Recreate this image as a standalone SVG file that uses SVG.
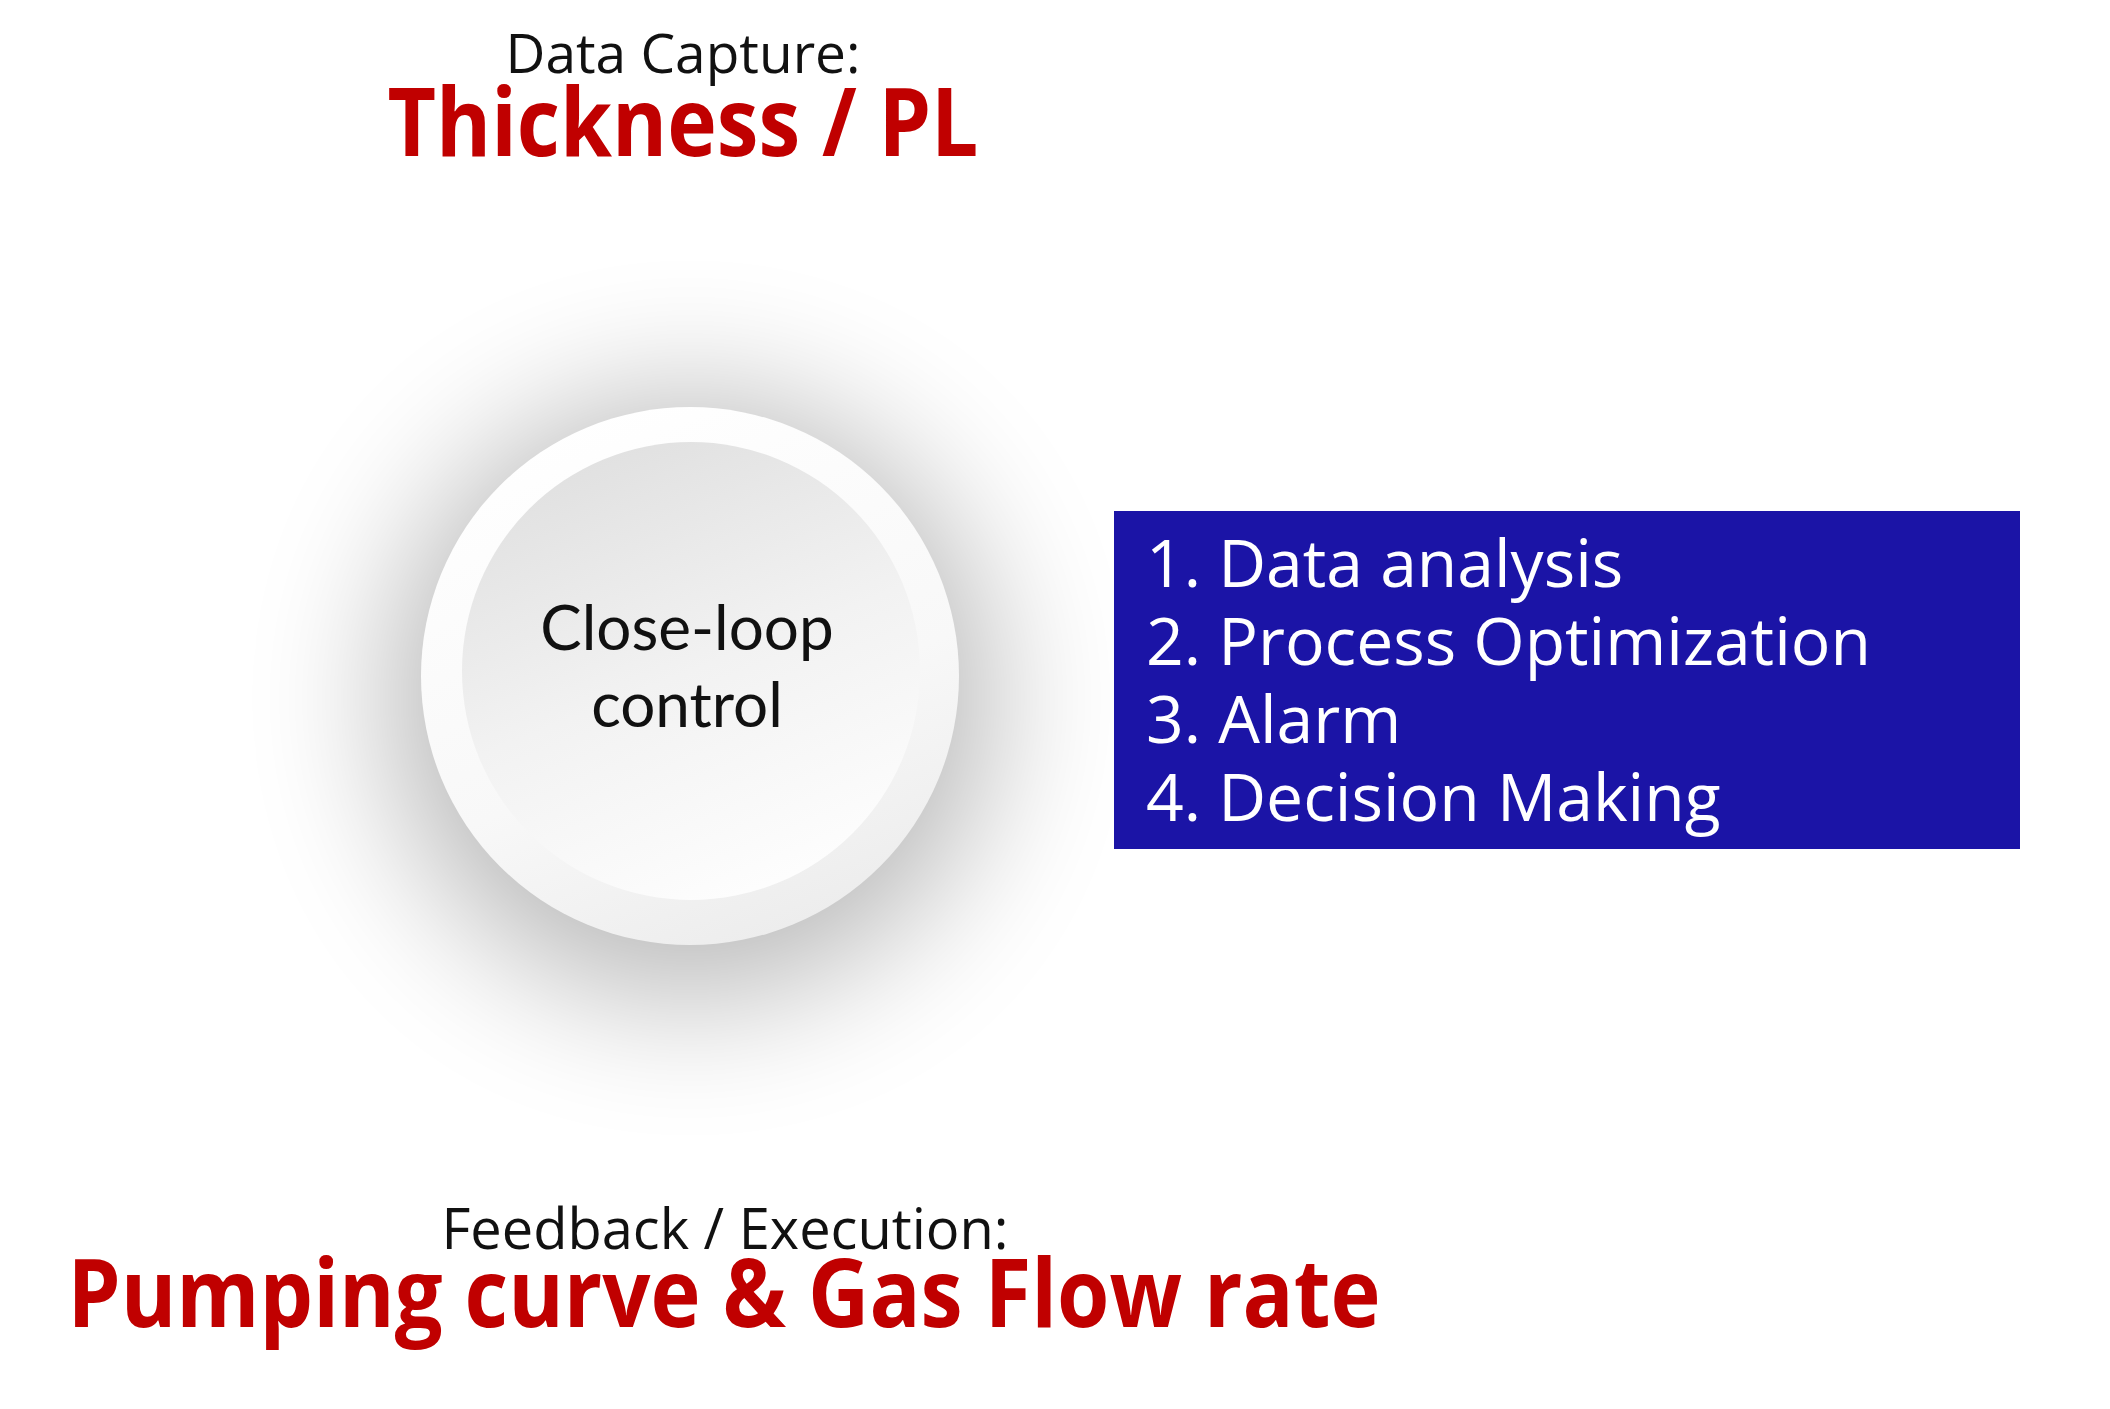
<svg xmlns="http://www.w3.org/2000/svg" width="2110" height="1409" viewBox="0 0 2110 1409">
  <defs>
    <filter id="softShadow" x="-60%" y="-60%" width="220%" height="220%">
      <feGaussianBlur stdDeviation="72"/>
    </filter>
    <linearGradient id="outerGrad" x1="0.3" y1="0" x2="0.7" y2="1">
      <stop offset="0" stop-color="#ffffff"/>
      <stop offset="0.6" stop-color="#f8f8f8"/>
      <stop offset="1" stop-color="#ececec"/>
    </linearGradient>
    <linearGradient id="innerGrad" x1="0.3" y1="0" x2="0.7" y2="1">
      <stop offset="0" stop-color="#e0e0e0"/>
      <stop offset="0.5" stop-color="#f2f2f2"/>
      <stop offset="1" stop-color="#fefefe"/>
    </linearGradient>
    <style>
      .label { font-family: "Open Sans", "Noto Sans", "Liberation Sans", sans-serif; fill: #111111; text-anchor: middle; }
      .headline { font-family: "Open Sans", "Noto Sans", "Liberation Sans", sans-serif; font-weight: 700; fill: #C00000; text-anchor: middle; }
      .center { font-family: "Lato", "Open Sans", sans-serif; fill: #111111; text-anchor: middle; font-size: 62px; }
      .item { font-family: "Open Sans", "Noto Sans", "Liberation Sans", sans-serif; fill: #ffffff; font-size: 66px; }
    </style>
  </defs>
  <rect x="0" y="0" width="2110" height="1409" fill="#ffffff"/>

  <g id="data-capture">
    <text class="label" x="683" y="73" font-size="55">Data Capture:</text>
    <text class="headline" x="683" y="156" font-size="95" textLength="591" lengthAdjust="spacingAndGlyphs">Thickness / PL</text>
  </g>

  <g id="close-loop-control">
    <circle cx="690" cy="698" r="300" fill="#000000" opacity="0.28" filter="url(#softShadow)"/>
    <circle cx="690" cy="676" r="269" fill="url(#outerGrad)"/>
    <circle cx="691" cy="671" r="229" fill="url(#innerGrad)"/>
    <text class="center" x="687" y="650">Close-loop</text>
    <text class="center" x="687" y="727">control</text>
  </g>

  <g id="actions">
    <rect x="1114" y="511" width="906" height="338" fill="#1B14A6"/>
    <text class="item" x="1146" y="587">1. Data analysis</text>
    <text class="item" x="1146" y="665">2. Process Optimization</text>
    <text class="item" x="1146" y="743">3. Alarm</text>
    <text class="item" x="1146" y="821">4. Decision Making</text>
  </g>

  <g id="feedback-execution">
    <text class="label" x="725" y="1249" font-size="56">Feedback / Execution:</text>
    <text class="headline" x="724" y="1327" font-size="95" textLength="1313" lengthAdjust="spacingAndGlyphs">Pumping curve &amp; Gas Flow rate</text>
  </g>

  <g id="connectors"></g>
</svg>
